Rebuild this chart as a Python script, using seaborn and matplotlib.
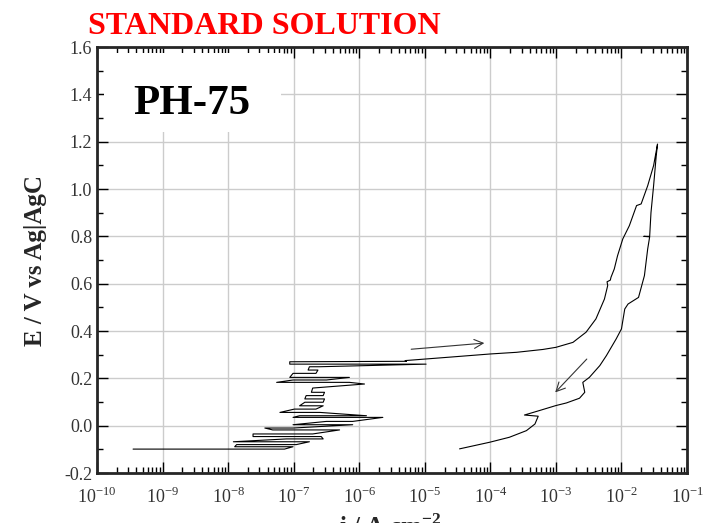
import numpy as np
import pandas as pd
import matplotlib
matplotlib.use("Agg")
import matplotlib.pyplot as plt
from matplotlib.ticker import LogLocator, FuncFormatter, MultipleLocator, NullFormatter
from matplotlib.patches import Rectangle
import seaborn as sns

# potenciales (V) y log10 de la corriente (A cm-2)
barrido_E = [
    -0.099, -0.099, -0.089, -0.089, -0.080, -0.080, -0.068, -0.068,
    -0.056, -0.056, -0.046, -0.046, -0.035, -0.035, -0.018, -0.018,
    -0.010, -0.010, 0.004, 0.004, 0.018, 0.018, 0.035, 0.035,
    0.042, 0.042, 0.056, 0.056, 0.070, 0.070, 0.084, 0.084,
    0.099, 0.099, 0.113, 0.113, 0.127, 0.127, 0.141, 0.141,
    0.159, 0.176, 0.183, 0.183, 0.193, 0.193, 0.204, 0.204,
    0.221, 0.221, 0.235, 0.235, 0.249, 0.249, 0.260, 0.260,
    0.270, 0.272, 0.275, 0.290, 0.303, 0.310, 0.322, 0.331,
    0.352, 0.395, 0.451, 0.535, 0.592, 0.608, 0.615, 0.627,
    0.662, 0.718, 0.789, 0.845, 0.930, 0.937, 1.014, 1.099, 1.190,
]
barrido_logi = [
    -9.45, -7.14, -7.01, -7.90, -7.87, -6.96, -6.76, -7.92,
    -7.11, -6.55, -6.58, -7.62, -7.62, -6.71, -6.30, -7.32,
    -7.44, -7.01, -6.10, -7.01, -6.50, -6.10, -5.64, -7.01,
    -6.91, -5.89, -6.60, -7.21, -6.99, -6.66, -6.55, -6.91,
    -6.83, -6.55, -6.53, -6.83, -6.81, -6.55, -6.53, -6.73,
    -6.71, -5.92, -6.15, -7.26, -7.01, -6.50, -6.15, -7.06,
    -7.01, -6.66, -6.63, -6.78, -6.76, -6.61, -4.98, -7.06,
    -7.06, -5.28, -5.30, -4.60, -4.00, -3.60, -3.20, -3.00,
    -2.74, -2.54, -2.39, -2.26, -2.21, -2.22, -2.17, -2.16,
    -2.11, -2.06, -1.98, -1.88, -1.77, -1.70, -1.60, -1.51, -1.45,
]
retorno_E = [
    1.190, 1.140, 1.014, 0.900, 0.800, 0.800, 0.798, 0.747, 0.634,
    0.542, 0.514, 0.493, 0.409, 0.367, 0.296, 0.254, 0.204, 0.183,
    0.141, 0.116, 0.096, 0.085, 0.064, 0.045, 0.040, 0.007, -0.021,
    -0.049, -0.070, -0.098,
]
retorno_logi = [
    -1.45, -1.47, -1.51, -1.55, -1.57, -1.66, -1.57, -1.60, -1.65,
    -1.74, -1.90, -1.95, -2.00, -2.08, -2.23, -2.33, -2.49, -2.59,
    -2.56, -2.64, -2.84, -3.00, -3.25, -3.48, -3.27, -3.32, -3.45,
    -3.71, -4.01, -4.47,
]

# flechas de sentido del barrido (log i, E)
flecha_ida = [(-5.25, 0.322), (-4.05, 0.350)]
flecha_vuelta = [(-2.50, 0.290), (-3.04, 0.132)]

df = pd.DataFrame({
    "E": barrido_E + retorno_E,
    "i": 10.0 ** np.array(barrido_logi + retorno_logi),
})

sns.set_style("ticks")
plt.rcParams["font.family"] = ["Liberation Serif", "DejaVu Serif"]
plt.rcParams["mathtext.fontset"] = "custom"
plt.rcParams["mathtext.rm"] = "Liberation Serif"
plt.rcParams["mathtext.bf"] = "Liberation Serif:bold"

fig = plt.figure(figsize=(7.04, 5.23), dpi=100)
ax = fig.add_axes([0.1378, 0.0956, 0.8381, 0.8145])

sns.lineplot(data=df, x="i", y="E", sort=False, estimator=None,
             color="black", linewidth=0.8, ax=ax, zorder=3)

for (x0, y0), (x1, y1) in [flecha_ida, flecha_vuelta]:
    ax.annotate("", xy=(10 ** x1, y1), xytext=(10 ** x0, y0),
                arrowprops=dict(arrowstyle="->", color="#333333", lw=0.8,
                                mutation_scale=16), zorder=3)

ax.set_xscale("log")
ax.set_xlim(1e-10, 1e-1)
ax.set_ylim(-0.2, 1.6)
ax.xaxis.set_major_locator(LogLocator(base=10, numticks=20))
ax.xaxis.set_minor_locator(LogLocator(base=10, subs=np.arange(2, 10), numticks=20))
ax.xaxis.set_minor_formatter(NullFormatter())
ax.xaxis.set_major_formatter(FuncFormatter(lambda v, p: r"10$^{%d}$" % round(np.log10(v))))
ax.yaxis.set_major_locator(MultipleLocator(0.2))
ax.yaxis.set_minor_locator(MultipleLocator(0.1))
ax.yaxis.set_major_formatter(FuncFormatter(lambda v, p: "%.1f" % v))

ax.grid(True, which="major", color="#cccccc", linewidth=1.0)
ax.set_axisbelow(True)
ax.tick_params(which="both", direction="in", top=True, right=True,
               colors="black", labelcolor="#333333", labelsize=13, width=1.0)
ax.tick_params(which="major", length=8)
ax.tick_params(which="minor", length=4)
ax.tick_params(axis="x", which="major", pad=10)
for s in ax.spines.values():
    s.set_linewidth(2.0)

ax.set_xlabel("")
ax.set_ylabel("E / V vs Ag|AgC", fontsize=18, fontweight="bold", labelpad=12)

# recuadro blanco detras de la etiqueta
ax.add_patch(Rectangle((0.012, 0.80), 0.30, 0.185, transform=ax.transAxes,
                       facecolor="white", edgecolor="none", zorder=1))
ax.text(0.062, 0.843, "PH-75", transform=ax.transAxes, fontsize=31,
        fontweight="bold", color="black", zorder=4)

fig.text(0.125, 0.935, "STANDARD SOLUTION", color="red", fontsize=23,
         fontweight="bold")
fig.text(0.555, -0.022, r"i / A cm$^{\mathbf{-2}}$", fontsize=18,
         fontweight="bold", ha="center")

fig.savefig("out.png", dpi=100)
